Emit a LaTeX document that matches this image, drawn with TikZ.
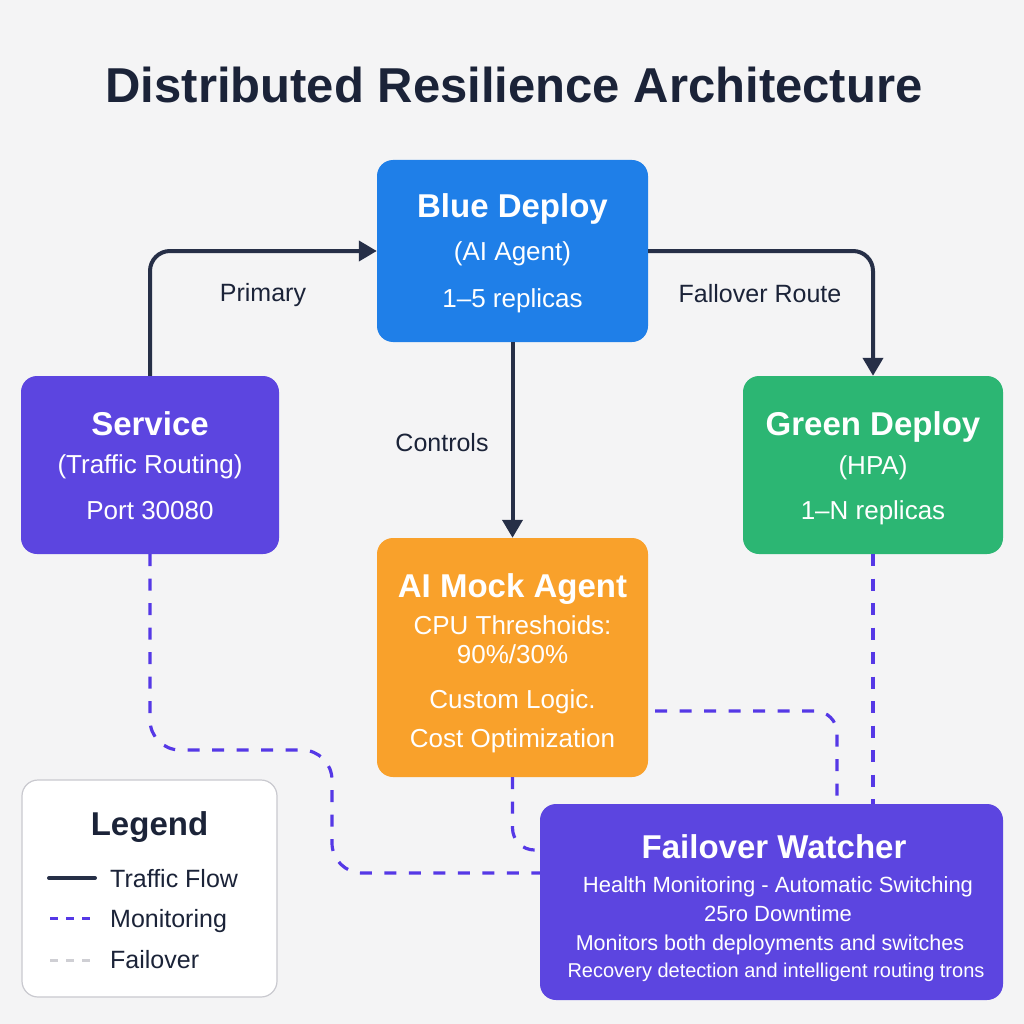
\documentclass[tikz,border=0pt]{standalone}
\usepackage{fontspec}
\setmainfont{Liberation Sans}
\usetikzlibrary{arrows.meta}

\definecolor{bgcol}{HTML}{F4F4F5}
\definecolor{navy}{HTML}{1B2338}
\definecolor{linecol}{HTML}{262F47}
\definecolor{bluecol}{HTML}{1F7FE8}
\definecolor{purplecol}{HTML}{5C45E0}
\definecolor{greencol}{HTML}{2CB673}
\definecolor{orangecol}{HTML}{F9A12B}
\definecolor{dashcol}{HTML}{5538E6}
\definecolor{graydash}{HTML}{CFCFD4}
\definecolor{legendborder}{HTML}{C9C9CF}

\tikzset{
  box/.style={rounded corners=16pt, inner sep=0pt},
  head/.style={anchor=base, text=white, font=\bfseries\fontsize{33}{38}\selectfont},
  sub/.style={anchor=base, text=white, font=\fontsize{26}{30}\selectfont},
  lbl/.style={anchor=base, text=navy, font=\fontsize{25}{30}\selectfont},
  flow/.style={draw=linecol, line width=4pt, rounded corners=20pt,
    -{Triangle[length=18pt,width=20pt]}},
  monitor/.style={draw=dashcol, line width=3.2pt, dash pattern=on 12pt off 12.5pt}
}

\begin{document}
\begin{tikzpicture}[x=1pt, y=-1pt]
  % canvas
  \fill[bgcol] (0,0) rectangle (1024,1024);
  \useasboundingbox (0,0) rectangle (1024,1024);

  \node[anchor=base, text=navy, font=\bfseries\fontsize{49}{56}\selectfont] (title)
    at (514,103) {Distributed Resilience Architecture};

  % boxes
  \node[box, fill=bluecol, minimum width=271pt, minimum height=182pt] (blue) at (512.5,251) {};
  \node[box, fill=purplecol, minimum width=258pt, minimum height=178pt] (service) at (150,465) {};
  \node[box, fill=greencol, minimum width=260pt, minimum height=178pt] (green) at (873,465) {};
  \node[box, fill=orangecol, minimum width=271pt, minimum height=239pt] (agent) at (512.5,657.5) {};
  \node[box, fill=purplecol, minimum width=463pt, minimum height=196pt] (watcher) at (771.5,902) {};
  \node[box, fill=white, draw=legendborder, line width=1.2pt, minimum width=255pt,
    minimum height=217pt] (legend) at (149.5,888.5) {};

  % box texts
  \node[head] (bluehead) at (blue.center |- 0,218) {Blue Deploy};
  \node[sub] (bluerole) at (blue.center |- 0,260) {(AI Agent)};
  \node[sub] (bluerep) at (blue.center |- 0,307) {1–5 replicas};

  \node[head] (servicehead) at (service.center |- 0,435) {Service};
  \node[sub] (servicerole) at (service.center |- 0,473) {(Traffic Routing)};
  \node[sub] (serviceport) at (service.center |- 0,519) {Port 30080};

  \node[head] (greenhead) at (green.center |- 0,435) {Green Deploy};
  \node[sub] (greenrole) at (green.center |- 0,474) {(HPA)};
  \node[sub] (greenrep) at (green.center |- 0,519) {1–N replicas};

  \node[head] (agenthead) at (agent.center |- 0,597) {AI Mock Agent};
  \node[sub] (agentcpu) at (agent.center |- 0,634) {CPU Threshoids:};
  \node[sub] (agentpct) at (agent.center |- 0,663) {90\%/30\%};
  \node[sub] (agentlogic) at (agent.center |- 0,708) {Custom Logic.};
  \node[sub] (agentcost) at (agent.center |- 0,747) {Cost Optimization};

  \node[head] (watcherhead) at (774,858) {Failover Watcher};
  \node[sub, font=\fontsize{22}{26}\selectfont] (watcherhealth) at (778,892)
    {Health Monitoring - Automatic Switching};
  \node[sub, font=\fontsize{22}{26}\selectfont] (watcherdown) at (778,921) {25ro Downtime};
  \node[sub, font=\fontsize{21.5}{26}\selectfont] (watcherboth) at (770,950)
    {Monitors both deployments and switches};
  \node[sub, font=\fontsize{20}{24}\selectfont] (watcherrec) at (776,977)
    {Recovery detection and intelligent routing trons};

  % traffic
  \draw[flow] (service.north) |- (blue.west);
  \draw[flow] (blue.east) -| (green.north);
  \draw[flow] (blue.south) -- (agent.north);
  \node[lbl] (primarylbl) at (263,301) {Primary};
  \node[lbl] (fallbacklbl) at (760,302) {Fallover Route};
  \node[lbl] (controlslbl) at (442,451) {Controls};

  % monitoring
  \draw[monitor, rounded corners=30pt] (service.south) -- (service.south |- 0,750)
    -- (332,750) -- (332,873) -- (watcher.west |- 0,873);
  \draw[monitor, rounded corners=22pt] (agent.south) |- (watcher.west |- 0,850);
  \draw[monitor, rounded corners=22pt, shorten <=7pt] (agent.east |- 0,711)
    -| (watcher.north -| 837,0);
  \draw[monitor] (green.south) -- (green.south |- watcher.north);

  % legend
  \node[anchor=base, text=navy, font=\bfseries\fontsize{33}{38}\selectfont] (legendhead)
    at (legend.center |- 0,835) {Legend};
  \node[lbl, anchor=base west, inner sep=0pt] (trafficlbl) at (110,887) {Traffic Flow};
  \node[lbl, anchor=base west, inner sep=0pt] (monitorlbl) at (110,927) {Monitoring};
  \node[lbl, anchor=base west, inner sep=0pt] (failoverlbl) at (110,968) {Failover};
  \draw[linecol, line width=4pt, line cap=round] (49,878) -- (95,878);
  \draw[dashcol, line width=3pt, dash pattern=on 8pt off 8pt] (50,918) -- (93,918);
  \draw[graydash, line width=3pt, dash pattern=on 8pt off 8pt] (50,960) -- (93,960);
\end{tikzpicture}
\end{document}
